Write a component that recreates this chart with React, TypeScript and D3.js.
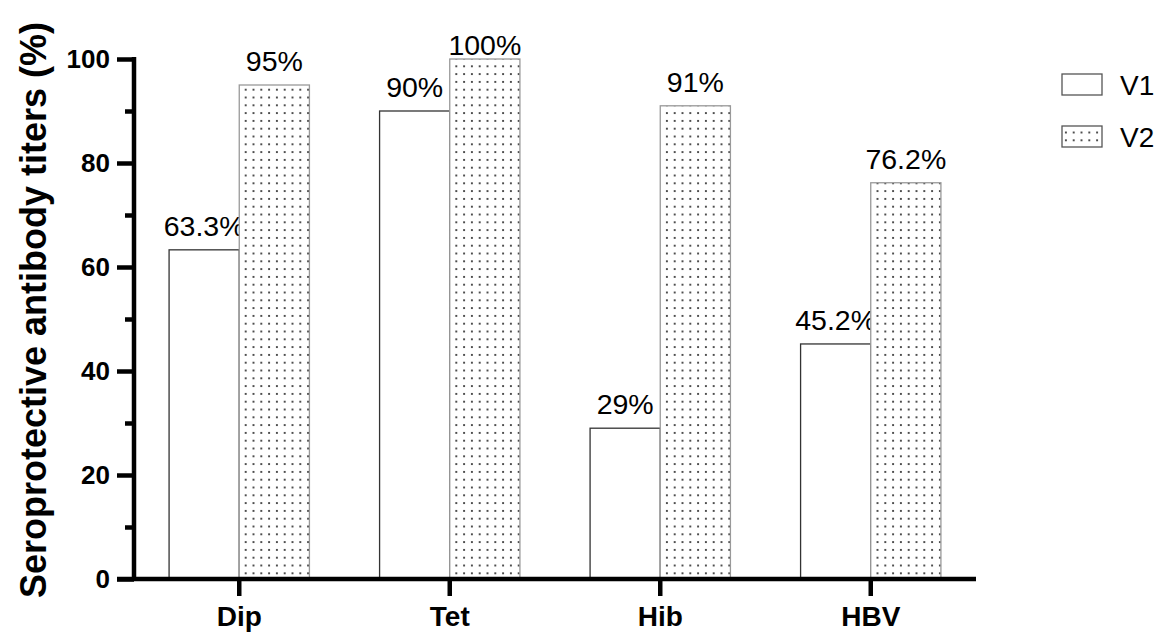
import * as d3 from 'd3'
import { useEffect, useRef } from 'react'

const categories = ['Dip', 'Tet', 'Hib', 'HBV']
const seriesNames = ['V1', 'V2']
const v1Values = [63.3, 90, 29, 45.2]
const v2Values = [95, 100, 91, 76.2]
const v1Labels = ['63.3%', '90%', '29%', '45.2%']
const v2Labels = ['95%', '100%', '91%', '76.2%']
const yTicks = [0, 20, 40, 60, 80, 100]
const yMinorTicks = [10, 30, 50, 70, 90]

const W = 1169
const H = 633
const FONT = '"Liberation Sans", Arial, sans-serif'

export default function App() {
  const ref = useRef<SVGSVGElement>(null)

  useEffect(() => {
    if (!ref.current) return
    const svg = d3.select(ref.current)
    svg.selectAll('*').remove()

    const left = 134
    const right = 976
    const top = 59
    const bottom = 579

    const x0 = d3.scaleBand().domain(categories).range([left, right]).paddingInner(1 / 3).paddingOuter(1 / 6)
    const x1 = d3.scaleBand().domain(seriesNames).range([0, x0.bandwidth()])
    const y = d3.scaleLinear().domain([0, 100]).range([bottom, top])

    const defs = svg.append('defs')
    const pat = defs
      .append('pattern')
      .attr('id', 'dots')
      .attr('patternUnits', 'userSpaceOnUse')
      .attr('width', 7.8)
      .attr('height', 7.8)
    pat.append('rect').attr('width', 7.8).attr('height', 7.8).attr('fill', '#fff')
    pat.append('circle').attr('cx', 3.9).attr('cy', 3.9).attr('r', 1.05).attr('fill', '#222')

    const rows = categories.map((c, i) => ({ c, v1: v1Values[i], v2: v2Values[i], l1: v1Labels[i], l2: v2Labels[i] }))

    const g = svg.append('g')
    rows.forEach((r) => {
      const gx = x0(r.c)!
      const items = [
        { s: 'V1', v: r.v1, l: r.l1 },
        { s: 'V2', v: r.v2, l: r.l2 },
      ]
      items.forEach((it) => {
        const bx = gx + x1(it.s)!
        g.append('rect')
          .attr('x', bx)
          .attr('y', y(it.v))
          .attr('width', x1.bandwidth())
          .attr('height', bottom - y(it.v))
          .attr('fill', it.s === 'V1' ? '#fff' : 'url(#dots)')
          .attr('stroke', it.s === 'V1' ? '#333' : '#999')
          .attr('stroke-width', 1.3)
        g.append('text')
          .attr('x', bx + x1.bandwidth() / 2)
          .attr('y', Math.max(y(it.v) - 14, top - 4))
          .attr('text-anchor', 'middle')
          .attr('font-family', FONT)
          .attr('font-size', 28.5)
          .attr('fill', '#000')
          .text(it.l)
      })
    })

    // y axis
    const ya = svg.append('g').attr('transform', `translate(${left},0)`)
    ya.call(d3.axisLeft(y).tickValues(yTicks).tickSize(17).tickSizeOuter(0).tickPadding(7))
    ya.select('.domain').attr('stroke', '#000').attr('stroke-width', 4.5).attr('d', `M0,${bottom}V${top - 2}`)
    ya.selectAll('.tick line').attr('stroke', '#000').attr('stroke-width', 4.5)
    ya.selectAll('.tick text')
      .attr('font-family', FONT)
      .attr('font-size', 26)
      .attr('font-weight', 'bold')
      .attr('fill', '#000')
    const ym = svg.append('g').attr('transform', `translate(${left},0)`)
    ym.call(d3.axisLeft(y).tickValues(yMinorTicks).tickSize(9).tickFormat(() => ''))
    ym.select('.domain').remove()
    ym.selectAll('.tick line').attr('stroke', '#000').attr('stroke-width', 4.5)

    // x axis
    const xa = svg.append('g').attr('transform', `translate(0,${bottom})`)
    xa.call(d3.axisBottom(x0).tickSize(17).tickSizeOuter(0).tickPadding(10))
    xa.select('.domain').attr('stroke', '#000').attr('stroke-width', 4.5).attr('d', `M${left - 17},0H${right}`)
    xa.selectAll('.tick line').attr('stroke', '#000').attr('stroke-width', 4.5)
    xa.selectAll('.tick text')
      .attr('font-family', FONT)
      .attr('font-size', 28)
      .attr('font-weight', 'bold')
      .attr('fill', '#000')

    // y label
    svg
      .append('text')
      .attr('transform', `translate(46,310) rotate(-90)`)
      .attr('text-anchor', 'middle')
      .attr('font-family', FONT)
      .attr('font-size', 36)
      .attr('font-weight', 'bold')
      .attr('fill', '#000')
      .text('Seroprotective antibody titers (%)')

    // legend
    const lg = svg.append('g').attr('transform', 'translate(1062,74)')
    seriesNames.forEach((s, i) => {
      lg.append('rect')
        .attr('x', 0)
        .attr('y', i * 52)
        .attr('width', 40)
        .attr('height', 21)
        .attr('fill', s === 'V1' ? '#fff' : 'url(#dots)')
        .attr('stroke', '#555')
        .attr('stroke-width', 1.3)
      lg.append('text')
        .attr('x', 58)
        .attr('y', i * 52 + 21)
        .attr('font-family', FONT)
        .attr('font-size', 28)
        .attr('fill', '#000')
        .text(s)
    })
  }, [])

  return <svg ref={ref} width={W} height={H} style={{ display: 'block', position: 'absolute', left: 0, top: 0 }} />
}
